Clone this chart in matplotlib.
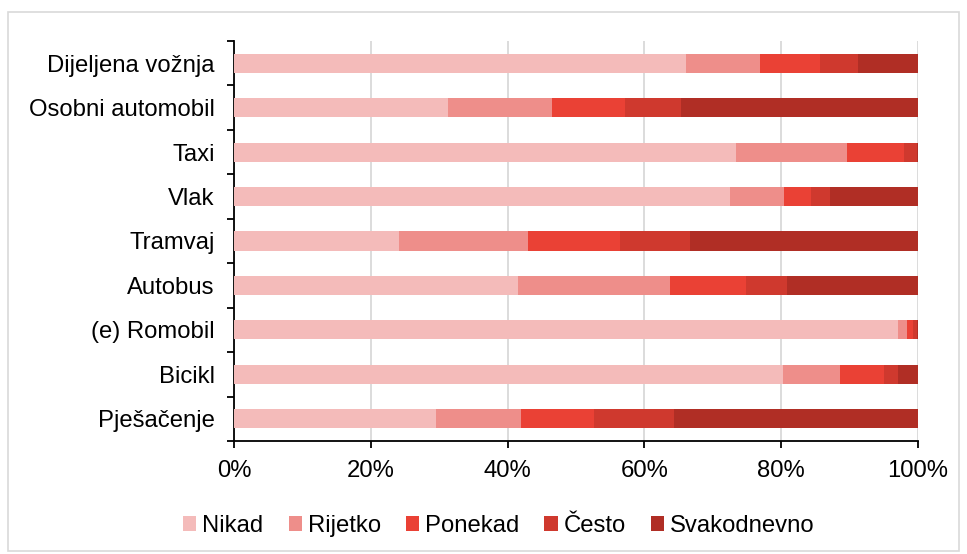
import matplotlib
matplotlib.use("Agg")
import matplotlib.pyplot as plt
from matplotlib.patches import Rectangle
import numpy as np

plt.rcParams['font.family'] = ['Liberation Sans', 'DejaVu Sans']

categories = ["Dijeljena vožnja", "Osobni automobil", "Taxi", "Vlak", "Tramvaj",
              "Autobus", "(e) Romobil", "Bicikl", "Pješačenje"]
series_names = ["Nikad", "Rijetko", "Ponekad", "Često", "Svakodnevno"]
nikad       = [66.1, 31.3, 73.4, 72.5, 24.1, 41.5, 97.1, 80.2, 29.6]
rijetko     = [10.8, 15.2, 16.2,  7.9, 18.9, 22.2,  1.3,  8.4, 12.4]
ponekad     = [ 8.8, 10.7,  8.4,  3.9, 13.5, 11.1,  0.8,  6.5, 10.7]
cesto       = [ 5.6,  8.1,  1.8,  2.8, 10.1,  6.1,  0.6,  2.0, 11.7]
svakodnevno = [ 8.7, 34.7,  0.2, 12.9, 33.4, 19.1,  0.2,  2.9, 35.6]
colors = ["#F4BBBA", "#EE8E8A", "#EA4135", "#CF392E", "#B02E25"]
xticks = [0, 20, 40, 60, 80, 100]
xticklabels = ["0%", "20%", "40%", "60%", "80%", "100%"]

FS = 17.2

fig = plt.figure(figsize=(9.67, 5.54), dpi=100)
fig.patches.append(Rectangle((0.008, 0.006), 0.984, 0.972, transform=fig.transFigure,
                             fill=False, edgecolor="#D9D9D9", linewidth=1.2))
ax = fig.add_axes([234/967, 1 - 441/554, (918-234)/967, (441-41)/554])

y = np.arange(len(categories))
left = np.zeros(len(categories))
for name, vals, c in zip(series_names, [nikad, rijetko, ponekad, cesto, svakodnevno], colors):
    ax.barh(y, vals, left=left, height=0.43, color=c, label=name, zorder=3)
    left += np.array(vals)

ax.set_ylim(len(categories) - 0.5, -0.5)
ax.set_xlim(0, 100)
ax.set_yticks(y)
ax.set_yticklabels(categories, fontsize=FS)
ax.set_yticks(np.arange(-0.5, len(categories), 1), minor=True)
ax.tick_params(axis='y', which='major', length=0, pad=14)
ax.tick_params(axis='y', which='minor', length=5, width=1.3, direction='out')
ax.set_xticks(xticks)
ax.set_xticklabels(xticklabels, fontsize=FS)
ax.tick_params(axis='x', which='major', length=5, width=1.3, direction='out', pad=9)
ax.xaxis.grid(True, color="#D9D9D9", linewidth=1.3, zorder=0)
for s in ["top", "right"]:
    ax.spines[s].set_visible(False)
for s in ["left", "bottom"]:
    ax.spines[s].set_linewidth(1.3)
    ax.spines[s].set_color("black")

fig.legend(loc="center", bbox_to_anchor=(0.516, 1 - 526/554), ncol=5, frameon=False,
           fontsize=FS, handlelength=0.55, handleheight=0.55, handletextpad=0.25,
           columnspacing=1.05)

fig.savefig("out.png", dpi=100)
